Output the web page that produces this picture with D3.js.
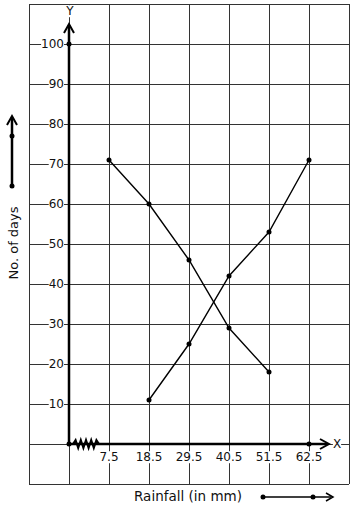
<!DOCTYPE html>
<html>
<head>
<meta charset="utf-8">
<script src="https://cdn.jsdelivr.net/npm/d3@7"></script>
<style>
  body { margin: 0; background: #fff; }
  text { font-family: "DejaVu Sans", sans-serif; fill: #111; }
</style>
</head>
<body>
<script>
// data
var xTicks = [7.5, 18.5, 29.5, 40.5, 51.5, 62.5];
var yTicks = [10, 20, 30, 40, 50, 60, 70, 80, 90, 100];
var falling = { x: [7.5, 18.5, 29.5, 40.5, 51.5], y: [71, 60, 46, 29, 18] };
var rising = { x: [18.5, 29.5, 40.5, 51.5, 62.5], y: [11, 25, 42, 53, 71] };

// svg container
var width = 354;
var height = 510;

var svg = d3.select("body").append("svg")
    .attr("width", width)
    .attr("height", height);

// scales (x axis is broken near the origin)
var xScale = d3.scaleLinear().domain([7.5, 62.5]).range([109, 309]);
var yScale = d3.scaleLinear().domain([0, 100]).range([444, 44]);

var xGrid = d3.range(-2, 7).map(k => 7.5 + 11 * k);
var yGrid = d3.range(-10, 111, 10);
var x0 = xScale(-3.5), y0 = yScale(0);

// grid
var grid = svg.append("g").attr("stroke", "#333").attr("stroke-width", 1);
grid.selectAll(".v").data(xGrid).enter().append("line")
    .attr("x1", d => Math.round(xScale(d)) + 0.5).attr("x2", d => Math.round(xScale(d)) + 0.5)
    .attr("y1", yScale(110)).attr("y2", yScale(-10));
grid.selectAll(".h").data(yGrid).enter().append("line")
    .attr("y1", d => Math.round(yScale(d)) + 0.5).attr("y2", d => Math.round(yScale(d)) + 0.5)
    .attr("x1", xScale(-14.5)).attr("x2", xScale(73.5));

// label with white box behind it
function boxed(g, txt, x, y, anchor) {
  var t = g.append("text").attr("x", x).attr("y", y).attr("dy", "0.35em")
      .attr("text-anchor", anchor).attr("font-size", 12).text(txt);
  var b = t.node().getBBox();
  g.insert("rect", "text").attr("x", b.x).attr("y", b.y + 1)
      .attr("width", b.width).attr("height", b.height - 2).attr("fill", "#fff");
  g.node().appendChild(t.node());
}

var labels = svg.append("g");
yTicks.forEach(d => boxed(labels, d, 64, yScale(d), "end"));
xTicks.forEach(d => boxed(labels, d, xScale(d), 457, "middle"));
boxed(labels, "X", 337, y0, "middle");
boxed(labels, "Y", 70, 11, "middle");

// axes
var axes = svg.append("g").attr("stroke", "#000").attr("fill", "none")
    .attr("stroke-width", 2.5);
axes.append("line").attr("x1", x0).attr("x2", x0).attr("y1", y0).attr("y2", 25);
axes.append("path").attr("stroke-width", 2).attr("d", `M${x0 - 5},33 L${x0},24 L${x0 + 5},33`);
axes.append("line").attr("x1", x0).attr("x2", 327).attr("y1", y0).attr("y2", y0);
axes.append("path").attr("stroke-width", 2).attr("d", `M320,${y0 - 5} L329,${y0} L320,${y0 + 5}`);

// zigzag kink
var zig = d3.range(11).map(i => [73 + i * 2.6, i === 0 || i === 10 ? y0 : y0 + (i % 2 ? -4 : 4)]);
axes.append("path").attr("stroke-width", 2).attr("d", d3.line()(zig));

// series
var lines = svg.append("g");
[falling, rising].forEach(s => {
  var pts = s.x.map((v, i) => [xScale(v), yScale(s.y[i])]);
  lines.append("path").attr("d", d3.line()(pts))
      .attr("fill", "none").attr("stroke", "#000").attr("stroke-width", 1.4);
  lines.selectAll(null).data(pts).enter().append("circle")
      .attr("cx", d => d[0]).attr("cy", d => d[1]).attr("r", 2.5).attr("fill", "#000");
});

// axis points
[[x0, y0], [x0, yScale(100)], [xScale(62.5), y0]].forEach(p => {
  svg.append("circle").attr("cx", p[0]).attr("cy", p[1]).attr("r", 2.5).attr("fill", "#000");
});

// axis titles with arrows
svg.append("text")
    .attr("transform", "translate(13,243) rotate(-90)")
    .attr("dy", "0.35em").attr("text-anchor", "middle").attr("font-size", 13)
    .text("No. of days");
var side = svg.append("g").attr("stroke", "#000").attr("fill", "none");
side.append("line").attr("x1", 12).attr("x2", 12).attr("y1", 186).attr("y2", 118).attr("stroke-width", 2.5);
side.append("path").attr("stroke-width", 2).attr("d", "M7,125 L12,116 L17,125");
[[12, 186], [12, 136]].forEach(p => svg.append("circle").attr("cx", p[0]).attr("cy", p[1]).attr("r", 2.5).attr("fill", "#000"));

svg.append("text").attr("x", 188).attr("y", 496).attr("dy", "0.35em")
    .attr("text-anchor", "middle").attr("font-size", 13.5).text("Rainfall (in mm)");
side.append("line").attr("x1", 263).attr("x2", 331).attr("y1", 497).attr("y2", 497).attr("stroke-width", 1.5);
side.append("path").attr("stroke-width", 1.5).attr("d", "M326,493 L333,497 L326,501");
[[263, 497], [313, 497]].forEach(p => svg.append("circle").attr("cx", p[0]).attr("cy", p[1]).attr("r", 2.5).attr("fill", "#000"));
</script>
</body>
</html>
